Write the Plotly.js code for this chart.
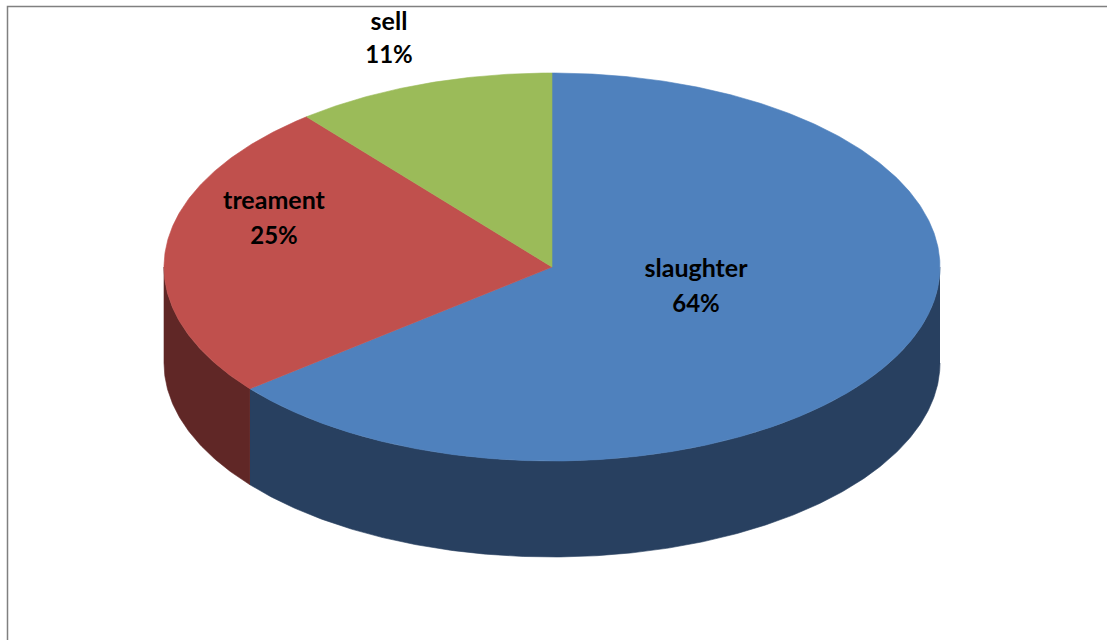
<!DOCTYPE html>
<html>
<head>
<meta charset="utf-8">
<script src="https://cdn.plot.ly/plotly-3.0.1.min.js"></script>
<style>html,body{margin:0;padding:0;background:#fff;overflow:hidden}#chart{width:1107px;height:640px}</style>
</head>
<body>
<div id="chart"></div>
<script>
// Chart data
const categories = ['slaughter', 'treament', 'sell'];
const shares = [64.2, 24.9, 10.9];

// Styling
const topColors = ['#4f81bd', '#c0504d', '#9bbb59'];
const sideColors = ['#284060', '#602726', '#4d5e2c'];
const labelX = [696, 274, 389];
const nameY = [271, 203, 24];
const percentY = [306, 238, 57];

// Projection of the tilted disc, in plot units (axes map 1:1 to the canvas)
const cx = 552, cy = 267, rx = 388, ry = 194, depth = 96;
const total = shares.reduce((a, b) => a + b, 0);

function rim(deg, drop) {
  const t = deg * Math.PI / 180;           // clockwise from 12 o'clock
  return [cx + rx * Math.sin(t), cy - ry * Math.cos(t) + drop];
}
function sweep(a, b, drop) {
  const n = Math.max(2, Math.ceil(Math.abs(b - a) * 2));
  const pts = [];
  for (let i = 0; i <= n; i++) pts.push(rim(a + (b - a) * i / n, drop));
  return pts;
}
function polygon(pts, color, name) {
  return {
    type: 'scatter', mode: 'lines', name: name,
    x: pts.map(p => p[0]), y: pts.map(p => p[1]),
    fill: 'toself', fillcolor: color,
    line: {width: 0.6, color: color},
    hoverinfo: 'skip', showlegend: false
  };
}

const traces = [];
const tops = [];
let start = 0;
categories.forEach((c, i) => {
  const end = start + shares[i] / total * 360;
  // Only the front half of the rim (90deg to 270deg) shows a wall
  const a = Math.max(start, 90), b = Math.min(end, 270);
  if (b > a) {
    const wall = sweep(a, b, 0).concat(sweep(b, a, depth));
    traces.push(polygon(wall, sideColors[i], c + ' side'));
  }
  tops.push(polygon([[cx, cy]].concat(sweep(start, end, 0), [[cx, cy]]), topColors[i], c));
  start = end;
});
traces.push(...tops);

const nameFont = {family: 'Lato, Carlito, sans-serif', size: 25, color: '#000000', weight: 700};
const percentFont = {family: 'Lato, Carlito, sans-serif', size: 24, color: '#000000', weight: 700};
traces.push({
  type: 'scatter', mode: 'text', x: labelX, y: nameY, text: categories,
  textposition: 'middle center', textfont: nameFont,
  hoverinfo: 'skip', showlegend: false
});
traces.push({
  type: 'scatter', mode: 'text', x: labelX, y: percentY,
  text: shares.map(v => Math.round(v) + '%'),
  textposition: 'middle center', textfont: percentFont,
  hoverinfo: 'skip', showlegend: false
});

const layout = {
  width: 1107, height: 640,
  margin: {l: 0, r: 0, t: 0, b: 0},
  paper_bgcolor: '#ffffff', plot_bgcolor: '#ffffff',
  showlegend: false,
  xaxis: {range: [0, 1107], visible: false, fixedrange: true},
  yaxis: {range: [640, 0], visible: false, fixedrange: true},
  shapes: [{
    type: 'path', xref: 'x', yref: 'y',
    path: 'M 7.5 640 L 7.5 6.5 L 1107 6.5',
    line: {color: '#808080', width: 1.5}, layer: 'below'
  }]
};
Plotly.newPlot('chart', traces, layout, {displayModeBar: false, staticPlot: true});
</script>
</body>
</html>
